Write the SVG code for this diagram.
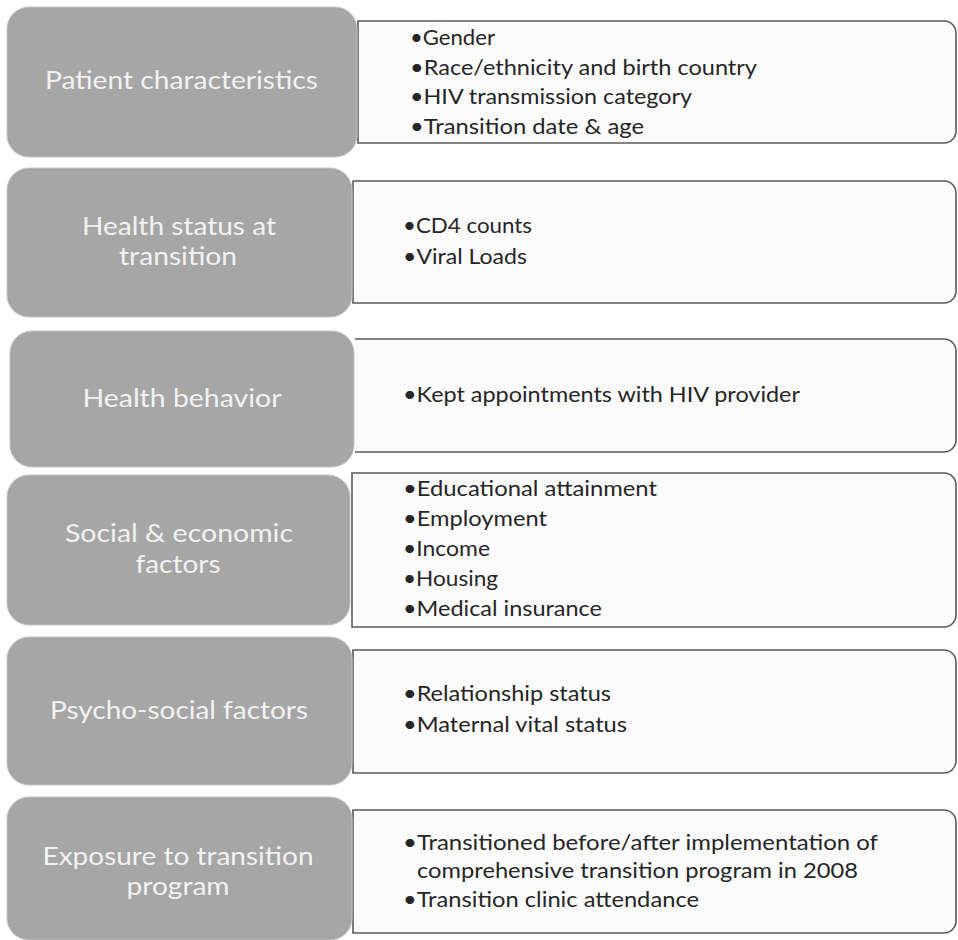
<svg xmlns="http://www.w3.org/2000/svg" width="958" height="940" viewBox="0 0 958 940">
<style>
.cat{fill:#a6a6a6;stroke:#c4c4c4;stroke-width:1}
.lab{font-family:Lato,"Liberation Sans",sans-serif;font-size:25px;fill:#f2f2f2;text-anchor:middle}
.box{fill:#fbfbfb;stroke:#5a5a5a;stroke-width:1.6}
.itm{font-family:Lato,"Liberation Sans",sans-serif;font-size:21px;fill:#262626}
</style>
<rect width="958" height="940" fill="#ffffff"/>
<g id="connectors"></g>
<g id="row1">
<path class="box" d="M358,21 H944 A12,12 0 0 1 956,33 V131 A12,12 0 0 1 944,143 H358 Z"/>
<rect class="cat" x="7" y="7" width="350" height="150" rx="22"/>
<text class="lab" x="181.5" y="89" textLength="273" lengthAdjust="spacingAndGlyphs">Patient characteristics</text>
<text class="itm" x="410" y="45" textLength="85" lengthAdjust="spacingAndGlyphs">•Gender</text>
<text class="itm" x="410" y="75" textLength="347" lengthAdjust="spacingAndGlyphs">•Race/ethnicity and birth country</text>
<text class="itm" x="410" y="104" textLength="282" lengthAdjust="spacingAndGlyphs">•HIV transmission category</text>
<text class="itm" x="410" y="134" textLength="234" lengthAdjust="spacingAndGlyphs">•Transition date &amp; age</text>
</g>
<g id="row2">
<path class="box" d="M353,181 H944 A12,12 0 0 1 956,193 V291 A12,12 0 0 1 944,303 H353 Z"/>
<rect class="cat" x="7" y="168" width="345" height="149" rx="22"/>
<text class="lab" x="179" y="235" textLength="194" lengthAdjust="spacingAndGlyphs">Health status at</text>
<text class="lab" x="178" y="265" textLength="118" lengthAdjust="spacingAndGlyphs">transition</text>
<text class="itm" x="403" y="233" textLength="129" lengthAdjust="spacingAndGlyphs">•CD4 counts</text>
<text class="itm" x="403" y="264" textLength="124" lengthAdjust="spacingAndGlyphs">•Viral Loads</text>
</g>
<g id="row3">
<path class="box" d="M355,339 H944 A12,12 0 0 1 956,351 V440 A12,12 0 0 1 944,452 H355"/>
<rect class="cat" x="10" y="331" width="344" height="136" rx="22"/>
<text class="lab" x="182" y="407" textLength="199" lengthAdjust="spacingAndGlyphs">Health behavior</text>
<text class="itm" x="403" y="402" textLength="397" lengthAdjust="spacingAndGlyphs">•Kept appointments with HIV provider</text>
</g>
<g id="row4">
<path class="box" d="M352,473 H944 A12,12 0 0 1 956,485 V615 A12,12 0 0 1 944,627 H352 Z"/>
<rect class="cat" x="7" y="475" width="343" height="150" rx="22"/>
<text class="lab" x="179" y="542" textLength="228" lengthAdjust="spacingAndGlyphs">Social &amp; economic</text>
<text class="lab" x="178" y="573" textLength="85" lengthAdjust="spacingAndGlyphs">factors</text>
<text class="itm" x="403" y="496" textLength="254" lengthAdjust="spacingAndGlyphs">•Educational attainment</text>
<text class="itm" x="403" y="526" textLength="144" lengthAdjust="spacingAndGlyphs">•Employment</text>
<text class="itm" x="403" y="556" textLength="87" lengthAdjust="spacingAndGlyphs">•Income</text>
<text class="itm" x="403" y="586" textLength="95" lengthAdjust="spacingAndGlyphs">•Housing</text>
<text class="itm" x="403" y="616" textLength="199" lengthAdjust="spacingAndGlyphs">•Medical insurance</text>
</g>
<g id="row5">
<path class="box" d="M353,650 H944 A12,12 0 0 1 956,662 V761 A12,12 0 0 1 944,773 H353 Z"/>
<rect class="cat" x="7" y="637" width="345" height="148" rx="22"/>
<text class="lab" x="179" y="719" textLength="258" lengthAdjust="spacingAndGlyphs">Psycho-social factors</text>
<text class="itm" x="403" y="701" textLength="208" lengthAdjust="spacingAndGlyphs">•Relationship status</text>
<text class="itm" x="403" y="732" textLength="224" lengthAdjust="spacingAndGlyphs">•Maternal vital status</text>
</g>
<g id="row6">
<path class="box" d="M353,810 H944 A12,12 0 0 1 956,822 V921 A12,12 0 0 1 944,933 H353 Z"/>
<rect class="cat" x="7" y="797" width="345" height="143" rx="22"/>
<text class="lab" x="178" y="865" textLength="271" lengthAdjust="spacingAndGlyphs">Exposure to transition</text>
<text class="lab" x="178" y="895" textLength="103" lengthAdjust="spacingAndGlyphs">program</text>
<text class="itm" x="403" y="850" textLength="475" lengthAdjust="spacingAndGlyphs">•Transitioned before/after implementation of</text>
<text class="itm" x="417" y="878" textLength="441" lengthAdjust="spacingAndGlyphs">comprehensive transition program in 2008</text>
<text class="itm" x="403" y="907" textLength="296" lengthAdjust="spacingAndGlyphs">•Transition clinic attendance</text>
</g>
</svg>
